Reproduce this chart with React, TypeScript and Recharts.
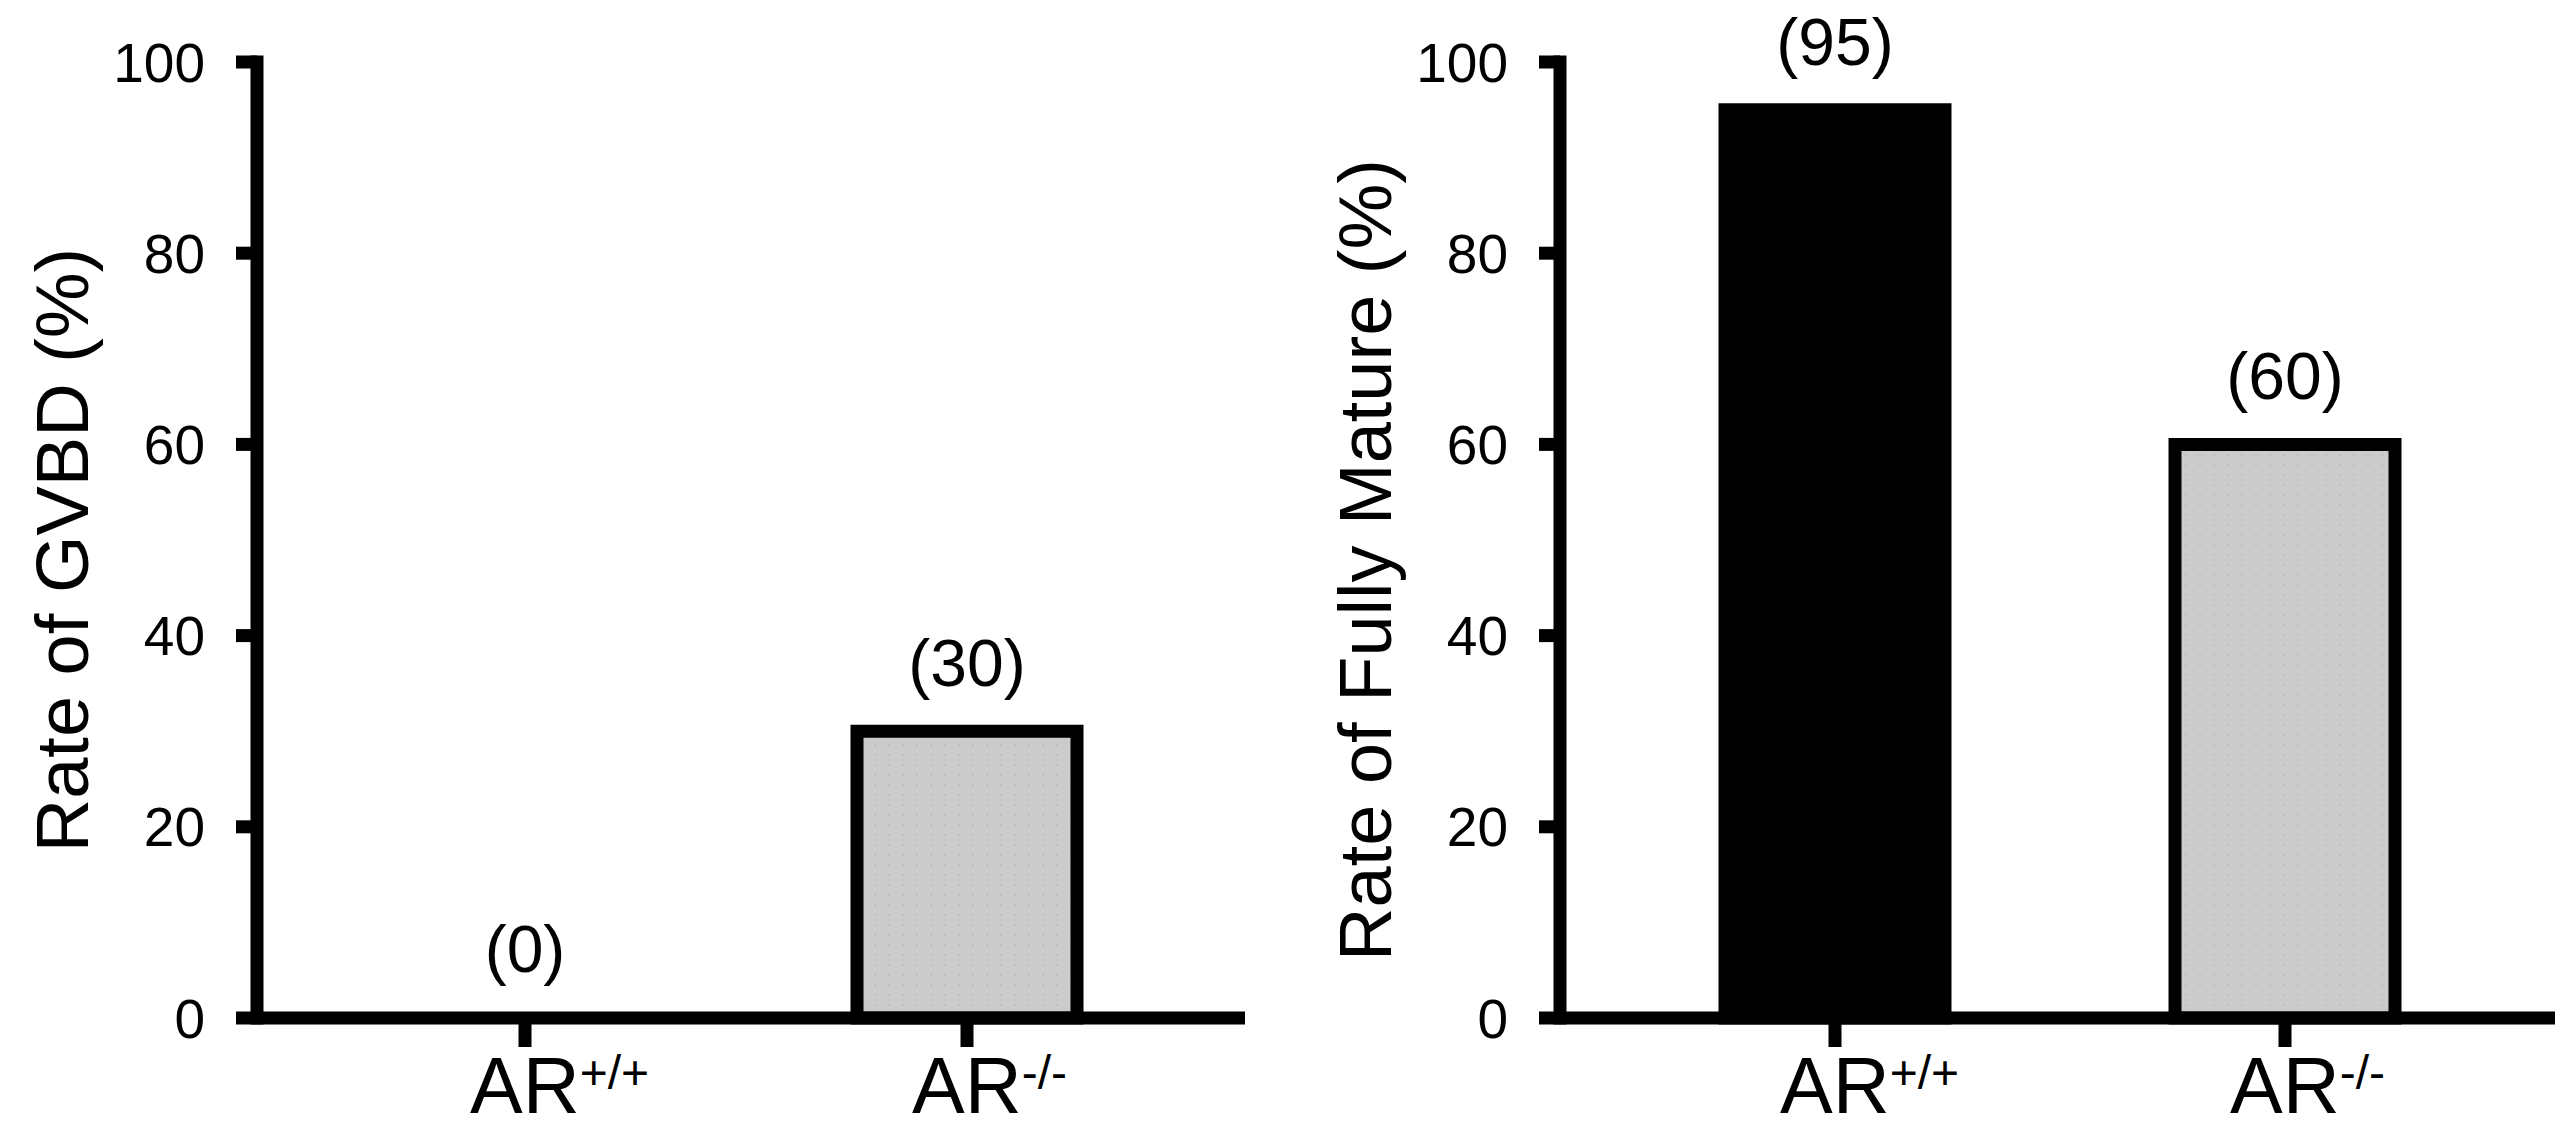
import { BarChart, Bar, XAxis, YAxis, Cell, LabelList, Label } from 'recharts'

// genotype superscripts under each bar
const genotypes = ['+/+', '-/-']
// % of oocytes at GVBD, and % fully matured
const gvbdRates = [0, 30]
const matureRates = [95, 60]
const yTicks = [0, 20, 40, 60, 80, 100]

const FONT = '"Liberation Sans", Arial, Helvetica, sans-serif'
const LINE = { stroke: '#000', strokeWidth: 13 }
const barFills = ['#000', 'url(#dots)']

const toRows = (values: number[]) => genotypes.map((g, i) => ({ genotype: g, value: values[i] }))

const ArTick = (props: any) => {
  const { x, y, payload } = props
  return (
    <text x={x - 55} y={y + 66} fontFamily={FONT} fill="#000">
      <tspan fontSize={79}>AR</tspan>
      <tspan fontSize={48} dy={-24}>{payload.value}</tspan>
    </text>
  )
}

const axisTitle = (text: string, shiftY: number) => (props: any) => {
  const vb = props.viewBox
  const x = vb.x + vb.width - 169
  const y = vb.y + vb.height / 2 + shiftY
  return (
    <text
      x={x}
      y={y}
      transform={`rotate(-90 ${x} ${y})`}
      textAnchor="middle"
      fontSize={74}
      fontFamily={FONT}
      fill="#000"
    >
      {text}
    </text>
  )
}

type PanelProps = {
  values: number[]
  title: string
  titleShift: number
  width: number
  yAxisWidth: number
  right: number
  pad: { left: number; right: number }
}

const Panel = ({ values, title, titleShift, width, yAxisWidth, right, pad }: PanelProps) => (
  <BarChart
    width={width}
    height={1134}
    data={toRows(values)}
    margin={{ top: 62, right, bottom: 0, left: 0 }}
  >
    <defs>
      <pattern id="dots" width="14" height="10" patternUnits="userSpaceOnUse">
        <rect width="14" height="10" fill="#cbcbcb" />
        <rect x="6" y="4" width="2" height="2" fill="#bebebe" />
      </pattern>
    </defs>
    <XAxis
      dataKey="genotype"
      height={116}
      padding={pad}
      axisLine={LINE}
      tickLine={LINE}
      tickSize={29}
      tickMargin={0}
      tick={<ArTick />}
      interval={0}
    />
    <YAxis
      type="number"
      domain={[0, 100]}
      ticks={yTicks}
      interval={0}
      width={yAxisWidth}
      axisLine={{ ...LINE, strokeLinecap: 'square' }}
      tickLine={LINE}
      tickSize={21}
      tickMargin={31}
      tick={{ fontSize: 55, fill: '#000', fontFamily: FONT }}
    >
      <Label content={axisTitle(title, titleShift)} />
    </YAxis>
    <Bar
      dataKey="value"
      barSize={220}
      minPointSize={1}
      stroke="#000"
      strokeWidth={13}
      isAnimationActive={false}
    >
      {values.map((v, i) => (
        <Cell key={i} fill={barFills[i]} stroke={v > 0 ? '#000' : 'none'} />
      ))}
      <LabelList
        dataKey="value"
        position="top"
        offset={45}
        formatter={(v: any) => `(${v})`}
        style={{ fontSize: 66, fill: '#000', fontFamily: FONT }}
      />
    </Bar>
  </BarChart>
)

export default function App() {
  return (
    <div style={{ position: 'absolute', left: 0, top: 0, width: 2565, height: 1134, background: '#fff' }}>
      <div style={{ position: 'absolute', left: 0, top: 0 }}>
        <Panel
          values={gvbdRates}
          title="Rate of GVBD (%)"
          titleShift={10}
          width={1283}
          yAxisWidth={257}
          right={38}
          pad={{ left: 47, right: 57 }}
        />
      </div>
      <div style={{ position: 'absolute', left: 1283, top: 0 }}>
        <Panel
          values={matureRates}
          title="Rate of Fully Mature (%)"
          titleShift={20}
          width={1282}
          yAxisWidth={277}
          right={10}
          pad={{ left: 50, right: 45 }}
        />
      </div>
    </div>
  )
}
